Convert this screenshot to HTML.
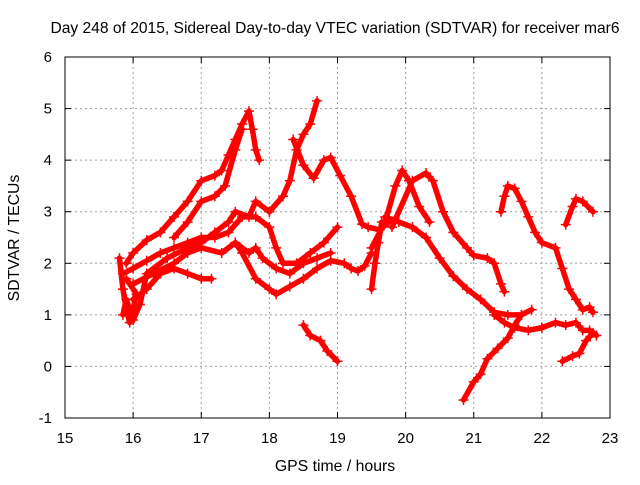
<!DOCTYPE html>
<html><head><meta charset="utf-8"><style>
body{margin:0;background:#fff}
svg{font-family:"Liberation Sans",sans-serif}
</style></head><body>
<svg id="chart" width="640" height="480" xmlns="http://www.w3.org/2000/svg">
<text x="335" y="33" font-size="15.6" text-anchor="middle">Day 248 of 2015, Sidereal Day-to-day VTEC variation (SDTVAR) for receiver mar6</text>
<text x="335" y="471" font-size="15.8" text-anchor="middle">GPS time / hours</text>
<text transform="translate(19,238) rotate(-90)" font-size="15.8" text-anchor="middle">SDTVAR / TECUs</text>
<g id="grid"></g>
<g id="marks"></g>
<rect x="65" y="57" width="545" height="361" fill="none" stroke="#000" stroke-width="1"/>
<g id="ticks"></g>
</svg>
<script>
const xTicks=[15,16,17,18,19,20,21,22,23];
const yTicks=[-1,0,1,2,3,4,5,6];
const s1=[[15.9,2.0],[16.0,2.2],[16.2,2.45],[16.4,2.6],[16.6,2.9],[16.8,3.2],[17.0,3.6],[17.2,3.7],[17.3,3.8],[17.4,4.1],[17.5,4.4],[17.6,4.7],[17.7,4.95],[17.75,4.6],[17.8,4.2],[17.85,4.0]];
const s2=[[16.6,2.5],[16.8,2.8],[17.0,3.2],[17.2,3.3],[17.35,3.5],[17.5,4.2],[17.6,4.6]];
const s3=[[18.0,3.0],[18.2,3.3],[18.3,3.6],[18.4,4.2],[18.5,4.5],[18.6,4.7],[18.7,5.15]];
const s3b=[[18.35,4.4],[18.5,3.9],[18.65,3.65],[18.8,4.0],[18.9,4.05],[19.04,3.7],[19.2,3.3],[19.36,2.76],[19.45,2.7],[19.62,2.65],[19.75,2.8]];
const s4=[[19.5,2.3],[19.7,2.8],[19.85,3.5],[19.95,3.8],[20.05,3.6],[20.2,3.1],[20.35,2.8]];
const s4b=[[19.8,2.7],[20.1,3.6],[20.3,3.75],[20.4,3.6],[20.55,3.0],[20.7,2.6],[20.9,2.3],[21.0,2.15],[21.2,2.1],[21.3,2.0],[21.4,1.6],[21.45,1.45]];
const s5=[[19.7,2.9],[19.9,2.8],[20.1,2.7],[20.3,2.5],[20.5,2.1],[20.7,1.75],[20.9,1.5],[21.1,1.3],[21.3,1.05],[21.5,1.0],[21.7,1.0],[21.85,1.1]];
const s5b=[[21.3,1.0],[21.45,0.85],[21.6,0.75],[21.8,0.7],[22.0,0.75],[22.2,0.85],[22.35,0.8],[22.5,0.85],[22.6,0.7],[22.7,0.7],[22.8,0.6]];
const s5c=[[19.5,1.5],[19.55,2.0],[19.6,2.4],[19.65,2.8]];
const s6=[[20.85,-0.65],[21.0,-0.3],[21.1,-0.15],[21.2,0.15],[21.35,0.35],[21.5,0.55],[21.6,0.8],[21.7,1.0]];
const s7=[[21.4,3.0],[21.45,3.3],[21.5,3.5],[21.6,3.45],[21.7,3.2],[21.8,2.9],[21.9,2.6],[22.0,2.4],[22.2,2.3],[22.3,1.9],[22.4,1.5],[22.5,1.3],[22.6,1.1],[22.7,1.15],[22.75,1.05]];
const s8=[[22.35,2.75],[22.45,3.1],[22.5,3.25],[22.6,3.2],[22.75,3.0]];
const s9=[[22.3,0.1],[22.45,0.2],[22.55,0.25],[22.65,0.5],[22.75,0.65]];
const s10=[[18.5,0.8],[18.6,0.6],[18.75,0.5],[18.85,0.3],[19.0,0.1]];
const l1=[[15.85,1.8],[16.0,1.9],[16.2,2.05],[16.4,2.2],[16.6,2.3],[16.8,2.4],[17.0,2.5],[17.2,2.5],[17.4,2.6],[17.6,2.9],[17.8,2.9],[18.0,2.7],[18.1,2.3],[18.2,2.0],[18.4,2.0],[18.6,2.2],[18.8,2.4],[19.0,2.7]];
const l2=[[16.0,1.6],[16.3,1.8],[16.6,2.0],[16.8,2.2],[17.0,2.3],[17.3,2.2],[17.5,2.4],[17.6,2.2],[17.8,1.7],[18.0,1.5],[18.1,1.4],[18.3,1.55],[18.5,1.7],[18.7,1.9],[18.9,2.05],[19.1,2.0],[19.2,1.9],[19.3,1.85],[19.4,1.95],[19.5,2.2]];
const l3=[[16.0,1.3],[16.2,1.5],[16.4,1.8],[16.6,1.9],[16.8,1.8],[17.0,1.7],[17.15,1.7]];
const l4=[[15.85,1.0],[15.9,1.3],[16.0,0.9],[16.1,1.2],[16.2,1.8],[16.5,2.1],[16.8,2.3],[17.0,2.4],[17.2,2.6],[17.4,2.8],[17.5,3.0],[17.7,2.9],[17.8,3.2],[18.0,3.0]];
const l5=[[17.5,2.4],[17.7,2.2],[17.8,2.3],[17.9,2.1],[18.1,1.9],[18.3,1.8],[18.5,2.0],[18.7,2.1],[18.9,2.2]];
const l6=[[15.8,2.1],[15.85,1.5],[15.9,1.1],[15.95,0.85],[16.05,1.4],[15.9,1.7]];
const allSeries=[s1,s2,s3,s3b,s4,s4b,s5,s5b,s5c,s6,s7,s8,s9,s10,l1,l2,l3,l4,l5,l6];

const NS="http://www.w3.org/2000/svg";
const X0=65,X1=610,Y0=418,Y1=57;
function sx(v){return X0+(v-15)/8*(X1-X0);}
function sy(v){return Y0-(v+1)/7*(Y0-Y1);}
const grid=document.getElementById('grid'),ticks=document.getElementById('ticks'),marks=document.getElementById('marks');
function mk(tag,attrs,parent){const e=document.createElementNS(NS,tag);for(const k in attrs)e.setAttribute(k,attrs[k]);parent.appendChild(e);return e;}
xTicks.forEach(t=>{
  const x=sx(t);
  if(t>15&&t<23){const g=mk('line',{x1:x,x2:x,y1:Y1,y2:Y0,stroke:'#a0a0a0','stroke-dasharray':'2,3'},grid);
  
  }
  const a=mk('line',{x1:x,x2:x,y1:Y0,y2:Y0-6,stroke:'#000'},ticks);
  
  
  const b=mk('line',{x1:x,x2:x,y1:Y1,y2:Y1+6,stroke:'#000'},ticks);
  
  
  const tx=mk('text',{x:x,y:443,'font-size':15,'text-anchor':'middle'},ticks);tx.textContent=t;
  
  
});
yTicks.forEach(t=>{
  const y=sy(t);
  if(t>-1&&t<6){const g=mk('line',{x1:X0,x2:X1,y1:y,y2:y,stroke:'#a0a0a0','stroke-dasharray':'2,3'},grid);
  
  }
  const a=mk('line',{x1:X0,x2:X0+6,y1:y,y2:y,stroke:'#000'},ticks);
  
  
  const b=mk('line',{x1:X1,x2:X1-6,y1:y,y2:y,stroke:'#000'},ticks);
  
  
  const tx=mk('text',{x:52,y:y+5,'font-size':15,'text-anchor':'end'},ticks);tx.textContent=t;
  
  
});
allSeries.forEach(s=>{
  const pts=s.map(p=>sx(p[0])+','+sy(p[1])).join(' ');
  const pl=mk('polyline',{points:pts,fill:'none',stroke:'#f00','stroke-width':5.5,'stroke-linejoin':'round','stroke-linecap':'round'},marks);
  
  
  s.forEach(p=>{
    const x=sx(p[0]),y=sy(p[1]);
    const m=mk('path',{d:`M${x-5},${y}H${x+5}M${x},${y-5}V${y+5}`,stroke:'#f00','stroke-width':1.5},marks);
    
    
  });
});
</script>
</body></html>
